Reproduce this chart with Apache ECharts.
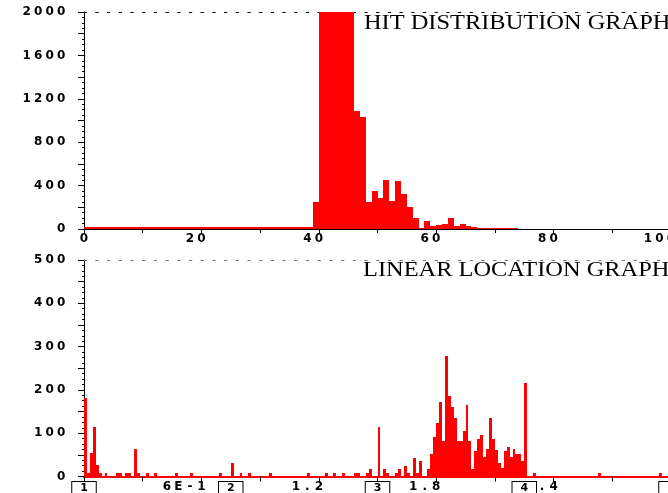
<!DOCTYPE html>
<html>
<head>
<meta charset="utf-8">
<script src="https://cdn.jsdelivr.net/npm/echarts@6/dist/echarts.min.js"></script>
<style>
  html, body { margin: 0; padding: 0; background: #ffffff; }
  #chart { width: 668px; height: 493px; }
</style>
</head>
<body>
<div id="chart"></div>
<script>
// ---------- Hit distribution: counts per amplitude bin (bin width 1, first bin at 0) ----------
const hitBinWidth = 1;
const hitCounts = [
  15, 15, 15, 15, 15, 15, 15, 15, 15, 15,
  15, 15, 15, 15, 15, 15, 15, 15, 15, 15,
  15, 15, 15, 15, 15, 15, 15, 15, 15, 15,
  15, 15, 15, 15, 15, 15, 15, 15, 15, 250,
  2000, 2000, 2000, 2000, 2000, 2000, 1090, 1030, 245, 350,
  285, 455, 260, 440, 320, 200, 100, 8, 75, 25,
  40, 50, 100, 25, 50, 30, 18, 10, 10, 10,
  10, 10, 10, 10
];
const hitXLabelValues = [0, 20, 40, 60, 80, 100];
const hitYLabelValues = [0, 400, 800, 1200, 1600, 2000];

// ---------- Linear location: counts per position bin (bin width 0.015) ----------
const locBinWidth = 0.015;
const locBins = [
  0, 1, 2, 3, 4, 5, 7, 11, 12, 14, 15, 17, 18, 21, 24, 31, 36, 46, 50, 53,
  56, 63, 76, 82, 85, 88, 92, 93, 96, 97, 100, 102, 103, 106, 107, 109, 110, 112, 113, 114,
  117, 118, 119, 120, 121, 122, 123, 124, 125, 126, 127, 128, 129, 130, 131, 132, 133, 134, 135, 136,
  137, 138, 139, 140, 141, 142, 143, 144, 145, 146, 147, 148, 149, 150, 153, 175, 196
];
const locCounts = [
  182, 8, 54, 115, 27, 8, 8, 8, 8, 8, 8, 63, 8, 8, 8, 8, 8, 8, 31, 8,
  8, 8, 8, 8, 8, 8, 8, 8, 8, 18, 115, 18, 8, 8, 18, 25, 8, 42, 8, 36,
  18, 52, 91, 123, 171, 81, 279, 186, 160, 135, 81, 81, 106, 166, 81, 18, 58, 86, 96, 46,
  63, 135, 86, 62, 31, 19, 58, 68, 44, 63, 52, 52, 36, 216, 8, 8, 8
];
const locXLabelValues = [0.6, 1.2, 1.8, 2.4];
const locXLabelText = ['6E-1', '1.2', '1.8', '2.4'];
const locYLabelValues = [0, 100, 200, 300, 400, 500];
const sensorSpacing = 0.75;
const sensorLabels = ['1', '2', '3', '4', '5'];

// ---------- helpers ----------
const LABEL_FONT = 'DejaVu Sans';
const CELL = 11.5;
const cellRich = {
  c: { width: CELL, align: 'center', fontFamily: LABEL_FONT, fontWeight: 'bold', fontSize: 12, lineHeight: 12, color: '#000' },
  s: { width: CELL, align: 'center', fontFamily: LABEL_FONT, fontWeight: 'bold', fontSize: 11, lineHeight: 10, color: '#000' }
};
// every character sits in a fixed cell; blank cells after the text keep the
// last character centred on its tick
function cells(text, anchorLast, key) {
  const k = key || 'c';
  const chars = String(text).split('');
  let s = chars.map(ch => '{' + k + '|' + ch + '}').join('');
  if (anchorLast) for (let i = 1; i < chars.length; i++) s += '{' + k + '| }';
  return s;
}
function near(list, v, eps) {
  for (let i = 0; i < list.length; i++) if (Math.abs(list[i] - v) < eps) return i;
  return -1;
}
// one filled rectangle per bin, snapped to whole pixels so neighbours join cleanly
function renderBin(params, api) {
  const top = api.coord([api.value(0), api.value(2)]);
  const base = api.coord([api.value(1), 0]);
  const x0 = Math.round(top[0]);
  const x1 = Math.round(base[0]);
  const y0 = Math.round(top[1]);
  const y1 = Math.round(base[1]);
  return {
    type: 'rect',
    shape: { x: x0, y: y0, width: Math.max(1, x1 - x0), height: Math.max(1, y1 - y0) },
    style: { fill: '#ff0000' }
  };
}

const hitData = hitCounts.map((c, i) => [i * hitBinWidth, (i + 1) * hitBinWidth, c]);
const locData = locBins.map((b, k) => [b * locBinWidth, (b + 1) * locBinWidth, locCounts[k]]);

const black = '#000000';
const dotted = (color) => ({ show: true, lineStyle: { color: color, width: 1, type: [2.5, 9.2] } });
const hidden = { show: false };

const option = {
  animation: false,
  backgroundColor: '#ffffff',
  grid: [
    { left: 84, top: 12, width: 587, height: 217, outerBoundsMode: 'none', containLabel: false },
    { left: 84, top: 260, width: 587, height: 216.5, outerBoundsMode: 'none', containLabel: false }
  ],
  xAxis: [
    { // amplitude axis
      gridIndex: 0, type: 'value', min: 0, max: 100, interval: 10, position: 'bottom', offset: 2,
      axisLine: { show: true, lineStyle: { color: black, width: 1 } },
      axisTick: { show: true, length: 4, lineStyle: { color: black } },
      axisLabel: {
        show: true, margin: 2, showMinLabel: true, showMaxLabel: true, rich: cellRich,
        formatter: v => (near(hitXLabelValues, v, 1e-6) >= 0 ? cells(v, true) : '')
      },
      splitLine: hidden
    },
    { gridIndex: 0, type: 'value', min: 0, max: 100, position: 'bottom', offset: 0,
      axisLine: dotted(black), axisTick: hidden, axisLabel: hidden, splitLine: hidden },
    { gridIndex: 0, type: 'value', min: 0, max: 100, position: 'top', offset: 0,
      axisLine: dotted(black), axisTick: hidden, axisLabel: hidden, splitLine: hidden },
    { // position axis
      gridIndex: 1, type: 'value', min: 0, max: 3, interval: 0.3, position: 'bottom', offset: 1.5,
      axisLine: { show: true, lineStyle: { color: black, width: 1 } },
      axisTick: { show: true, length: 5, lineStyle: { color: black } },
      axisLabel: {
        show: true, margin: 2.5, showMinLabel: true, showMaxLabel: true, rich: cellRich,
        formatter: v => { const i = near(locXLabelValues, v, 1e-6); return i >= 0 ? cells(locXLabelText[i], true) : ''; }
      },
      splitLine: hidden
    },
    { gridIndex: 1, type: 'value', min: 0, max: 3, position: 'bottom', offset: 0,
      axisLine: { show: true, lineStyle: { color: '#ff0000', width: 2 } },
      axisTick: hidden, axisLabel: hidden, splitLine: hidden },
    { gridIndex: 1, type: 'value', min: 0, max: 3, position: 'top', offset: 0,
      axisLine: dotted('#777777'), axisTick: hidden, axisLabel: hidden, splitLine: hidden },
    { // sensor positions
      gridIndex: 1, type: 'value', min: 0, max: 3, interval: sensorSpacing, position: 'bottom', offset: 1.5, z: 5,
      axisLine: hidden, axisTick: hidden, splitLine: hidden,
      axisLabel: {
        show: true, margin: 4, showMinLabel: true, showMaxLabel: true, rich: cellRich,
        backgroundColor: '#ffffff', borderColor: black, borderWidth: 1, padding: [1, 6, 0, 6],
        formatter: v => { const i = Math.round(v / sensorSpacing); return cells(sensorLabels[i], false, 's'); }
      }
    }
  ],
  yAxis: [
    { gridIndex: 0, type: 'value', min: 0, max: 2000, interval: 200, offset: 1,
      axisLine: { show: true, lineStyle: { color: black, width: 1 } },
      axisTick: { show: true, length: 6, lineStyle: { color: black } },
      axisLabel: { show: true, margin: 16, rich: cellRich,
        formatter: v => (near(hitYLabelValues, v, 1e-6) >= 0 ? cells(v, false) : '') },
      splitLine: hidden },
    { gridIndex: 0, type: 'value', min: 0, max: 2000, interval: 50,
      axisLine: hidden, axisTick: { show: true, inside: true, length: 2, lineStyle: { color: black } },
      axisLabel: hidden, splitLine: hidden },
    { gridIndex: 1, type: 'value', min: 0, max: 500, interval: 50, offset: 1,
      axisLine: { show: true, lineStyle: { color: black, width: 1 } },
      axisTick: { show: true, length: 6, lineStyle: { color: black } },
      axisLabel: { show: true, margin: 16, rich: cellRich,
        formatter: v => (near(locYLabelValues, v, 1e-6) >= 0 ? cells(v, false) : '') },
      splitLine: hidden },
    { gridIndex: 1, type: 'value', min: 0, max: 500, interval: 12.5,
      axisLine: hidden, axisTick: { show: true, inside: true, length: 2, lineStyle: { color: black } },
      axisLabel: hidden, splitLine: hidden }
  ],
  graphic: [
    { type: 'text', x: 364, y: 14, scaleX: 1.22, z: 10,
      style: { text: 'HIT DISTRIBUTION GRAPH', fontFamily: 'Liberation Serif', fontSize: 20, fill: '#000', verticalAlign: 'top' } },
    { type: 'text', x: 363, y: 261, scaleX: 1.22, z: 10,
      style: { text: 'LINEAR LOCATION GRAPH', fontFamily: 'Liberation Serif', fontSize: 20, fill: '#000', verticalAlign: 'top' } }
  ],
  series: [
    { name: 'Hits', type: 'custom', xAxisIndex: 0, yAxisIndex: 0, clip: true,
      encode: { x: [0, 1], y: 2 }, renderItem: renderBin, data: hitData },
    { name: 'Location', type: 'custom', xAxisIndex: 3, yAxisIndex: 2, clip: true,
      encode: { x: [0, 1], y: 2 }, renderItem: renderBin, data: locData }
  ]
};

const chart = echarts.init(document.getElementById('chart'), null, { renderer: 'canvas' });
chart.setOption(option);
</script>
</body>
</html>
